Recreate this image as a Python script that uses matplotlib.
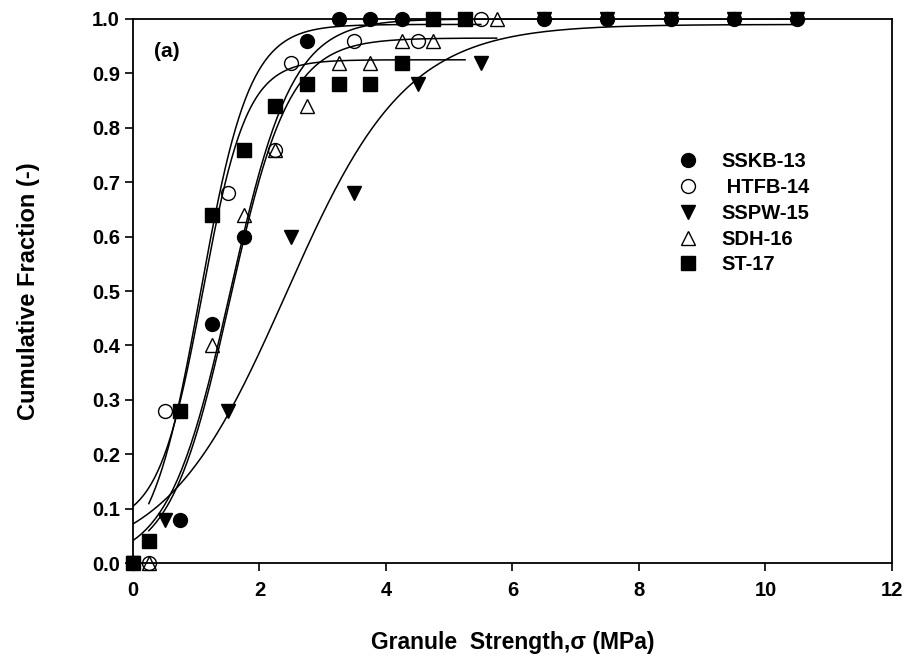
import numpy as np
import matplotlib as mpl
mpl.use("Agg")
import matplotlib.pyplot as plt

mpl.rcParams.update({"font.family": ["Liberation Sans", "DejaVu Sans"],
                     "font.weight": "bold",
                     "axes.unicode_minus": False})

# measured points
sskb_x = [0, 0.75, 1.25, 1.75, 2.75, 3.25, 3.75, 4.25, 6.5, 7.5, 8.5, 9.5, 10.5]
sskb_y = [0, 0.08, 0.44, 0.60, 0.96, 1.0, 1.0, 1.0, 1.0, 1.0, 1.0, 1.0, 1.0]

htfb_x = [0.25, 0.5, 1.5, 2.25, 2.5, 3.5, 4.5, 5.5]
htfb_y = [0, 0.28, 0.68, 0.76, 0.92, 0.96, 0.96, 1.0]

sspw_x = [0, 0.5, 1.5, 2.5, 3.5, 4.5, 5.5, 6.5, 7.5, 8.5, 9.5, 10.5]
sspw_y = [0, 0.08, 0.28, 0.60, 0.68, 0.88, 0.92, 1.0, 1.0, 1.0, 1.0, 1.0]

sdh_x = [0.25, 1.25, 1.75, 2.25, 2.75, 3.25, 3.75, 4.25, 4.75, 5.75]
sdh_y = [0, 0.40, 0.64, 0.76, 0.84, 0.92, 0.92, 0.96, 0.96, 1.0]

st_x = [0, 0.25, 0.75, 1.25, 1.75, 2.25, 2.75, 3.25, 3.75, 4.25, 4.75, 5.25]
st_y = [0, 0.04, 0.28, 0.64, 0.76, 0.84, 0.88, 0.88, 0.88, 0.92, 1.0, 1.0]

# sigmoid fit parameters: y0, a, x0, b
sskb_fit = [0.0, 1.0, 1.54, 0.49]
htfb_fit = [0.0, 0.99, 1.064, 0.39]
sspw_fit = [0.0, 0.99, 2.42, 0.95]
sdh_fit = [0.0, 0.965, 1.53, 0.47]
st_fit = [0.069, 0.856, 1.10, 0.35]


def sigmoid(x, p):
    y0, a, x0, b = p
    return y0 + a / (1 + np.exp(-(x - x0) / b))


def main():
    fig = plt.figure(figsize=(9.06, 6.62), dpi=100)
    ax = fig.add_axes([0.1468, 0.1495, 0.8377, 0.8218])

    series = [
        ("SSKB-13", sskb_x, sskb_y, sskb_fit, "o", "k"),
        (" HTFB-14", htfb_x, htfb_y, htfb_fit, "o", "none"),
        ("SSPW-15", sspw_x, sspw_y, sspw_fit, "v", "k"),
        ("SDH-16", sdh_x, sdh_y, sdh_fit, "^", "none"),
        ("ST-17", st_x, st_y, st_fit, "s", "k"),
    ]

    for (name, xs, ys, p, m, fc) in series:
        xx = np.linspace(min(xs), max(xs), 300)
        ax.plot(xx, sigmoid(xx, p), color="k", lw=1.1, zorder=2)
    for (name, xs, ys, p, m, fc) in series:
        ms = {"o": 10, "v": 10, "^": 10, "s": 9.5}[m]
        ax.plot(xs, ys, ls="none", marker=m, ms=ms, mfc=fc, mec="k",
                mew=1.0, clip_on=False, zorder=3, label=name)

    ax.set_xlim(0, 12)
    ax.set_ylim(0, 1.0)
    ax.set_xticks(range(0, 13, 2))
    ax.set_yticks(np.arange(0, 1.01, 0.1))
    ax.set_yticklabels(["%.1f" % v for v in np.arange(0, 1.01, 0.1)])
    ax.tick_params(direction="out", length=6, width=1.2, labelsize=14.5)
    ax.tick_params(axis="y", pad=3.5)
    ax.tick_params(axis="x", pad=7)
    for lab in ax.get_xticklabels() + ax.get_yticklabels():
        lab.set_fontweight("bold")
    for s in ax.spines.values():
        s.set_linewidth(1.3)

    ax.set_xlabel("Granule  Strength,σ (MPa)", fontsize=16.5,
                  fontweight="bold", labelpad=22)
    ax.set_ylabel("Cumulative Fraction (-)", fontsize=17,
                  fontweight="bold", labelpad=37)

    ax.text(0.028, 0.94, "(a)", transform=ax.transAxes, fontsize=15,
            fontweight="bold", va="center")

    leg = ax.legend(loc="upper left", bbox_to_anchor=(0.697, 0.785),
                    frameon=False, fontsize=14.5, handletextpad=1.15,
                    labelspacing=0.34, handlelength=1.0, borderpad=0.3)
    for t in leg.get_texts():
        t.set_fontweight("bold")

    plt.savefig("out.png", dpi=100)


if __name__ == "__main__":
    main()
